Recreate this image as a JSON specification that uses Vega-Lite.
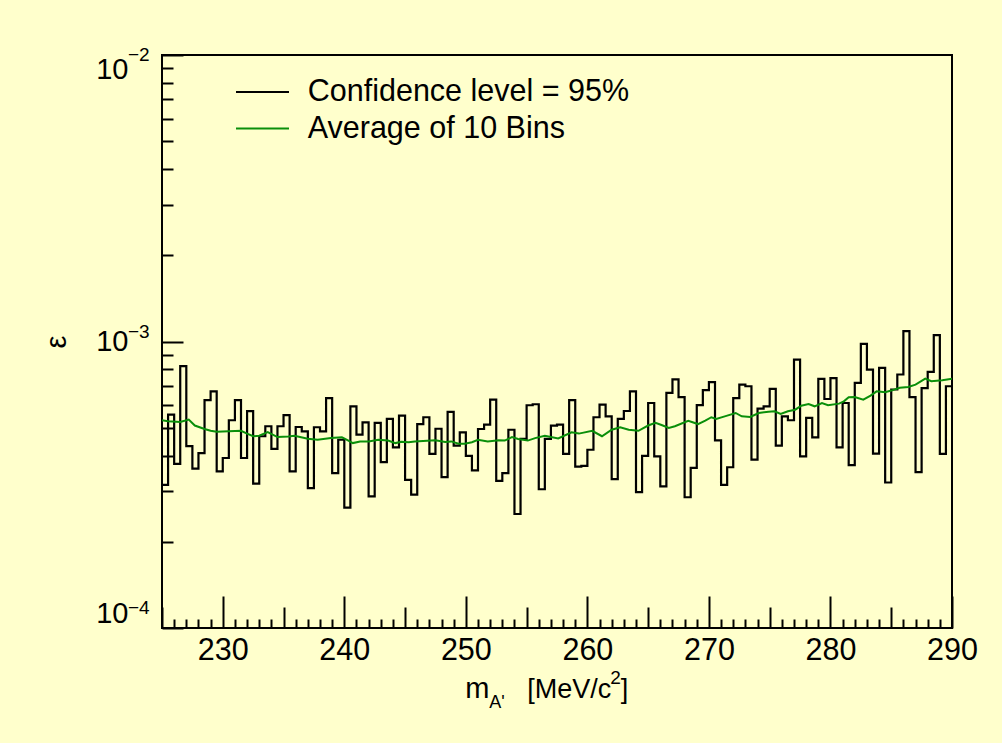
{
  "$schema": "https://vega.github.io/schema/vega-lite/v6.json",
  "width": 790,
  "height": 573,
  "autosize": {"type": "none"},
  "padding": {"left": 162, "top": 55, "right": 50, "bottom": 115},
  "background": "#ffffcc",
  "config": {
    "font": "Liberation Sans",
    "view": {"stroke": "#000000", "strokeWidth": 2},
    "axis": {"grid": false, "domain": false, "tickColor": "#000000", "tickWidth": 2, "labelColor": "#000000", "labelFont": "Liberation Sans", "labelFontSize": 29, "titleFont": "Liberation Sans", "titleFontWeight": "normal", "titleColor": "#000000", "labelOverlap": false, "labelBound": false, "tickCount": 100}
  },
  "datasets": {
    "hist": [
      {"m": 225.0, "eps": 3.16e-4}, {"m": 225.5, "eps": 5.56e-4}, {"m": 226.0, "eps": 3.74e-4}, {"m": 226.5, "eps": 8.20e-4},
      {"m": 227.0, "eps": 4.31e-4}, {"m": 227.5, "eps": 3.60e-4}, {"m": 228.0, "eps": 4.08e-4}, {"m": 228.5, "eps": 6.24e-4},
      {"m": 229.0, "eps": 6.70e-4}, {"m": 229.5, "eps": 3.52e-4}, {"m": 230.0, "eps": 3.92e-4}, {"m": 230.5, "eps": 5.31e-4},
      {"m": 231.0, "eps": 6.24e-4}, {"m": 231.5, "eps": 3.92e-4}, {"m": 232.0, "eps": 5.71e-4}, {"m": 232.5, "eps": 3.19e-4},
      {"m": 233.0, "eps": 4.67e-4}, {"m": 233.5, "eps": 5.06e-4}, {"m": 234.0, "eps": 4.22e-4}, {"m": 234.5, "eps": 5.06e-4},
      {"m": 235.0, "eps": 5.53e-4}, {"m": 235.5, "eps": 3.52e-4}, {"m": 236.0, "eps": 5.03e-4}, {"m": 236.5, "eps": 4.86e-4},
      {"m": 237.0, "eps": 3.08e-4}, {"m": 237.5, "eps": 5.02e-4}, {"m": 238.0, "eps": 4.86e-4}, {"m": 238.5, "eps": 6.34e-4},
      {"m": 239.0, "eps": 3.47e-4}, {"m": 239.5, "eps": 4.54e-4}, {"m": 240.0, "eps": 2.63e-4}, {"m": 240.5, "eps": 5.94e-4},
      {"m": 241.0, "eps": 4.73e-4}, {"m": 241.5, "eps": 5.22e-4}, {"m": 242.0, "eps": 2.88e-4}, {"m": 242.5, "eps": 5.20e-4},
      {"m": 243.0, "eps": 3.79e-4}, {"m": 243.5, "eps": 5.37e-4}, {"m": 244.0, "eps": 4.27e-4}, {"m": 244.5, "eps": 5.51e-4},
      {"m": 245.0, "eps": 3.29e-4}, {"m": 245.5, "eps": 2.92e-4}, {"m": 246.0, "eps": 5.15e-4}, {"m": 246.5, "eps": 5.44e-4},
      {"m": 247.0, "eps": 4.05e-4}, {"m": 247.5, "eps": 4.96e-4}, {"m": 248.0, "eps": 3.36e-4}, {"m": 248.5, "eps": 5.68e-4},
      {"m": 249.0, "eps": 4.33e-4}, {"m": 249.5, "eps": 4.82e-4}, {"m": 250.0, "eps": 3.99e-4}, {"m": 250.5, "eps": 3.55e-4},
      {"m": 251.0, "eps": 4.95e-4}, {"m": 251.5, "eps": 5.13e-4}, {"m": 252.0, "eps": 6.27e-4}, {"m": 252.5, "eps": 3.26e-4},
      {"m": 253.0, "eps": 3.47e-4}, {"m": 253.5, "eps": 4.92e-4}, {"m": 254.0, "eps": 2.50e-4}, {"m": 254.5, "eps": 4.57e-4},
      {"m": 255.0, "eps": 5.99e-4}, {"m": 255.5, "eps": 6.04e-4}, {"m": 256.0, "eps": 3.05e-4}, {"m": 256.5, "eps": 4.57e-4},
      {"m": 257.0, "eps": 5.09e-4}, {"m": 257.5, "eps": 5.13e-4}, {"m": 258.0, "eps": 4.05e-4}, {"m": 258.5, "eps": 6.24e-4},
      {"m": 259.0, "eps": 3.66e-4}, {"m": 259.5, "eps": 3.68e-4}, {"m": 260.0, "eps": 4.19e-4}, {"m": 260.5, "eps": 5.44e-4},
      {"m": 261.0, "eps": 6.02e-4}, {"m": 261.5, "eps": 5.48e-4}, {"m": 262.0, "eps": 3.31e-4}, {"m": 262.5, "eps": 5.37e-4},
      {"m": 263.0, "eps": 5.72e-4}, {"m": 263.5, "eps": 6.70e-4}, {"m": 264.0, "eps": 2.98e-4}, {"m": 264.5, "eps": 3.99e-4},
      {"m": 265.0, "eps": 6.10e-4}, {"m": 265.5, "eps": 3.97e-4}, {"m": 266.0, "eps": 3.12e-4}, {"m": 266.5, "eps": 6.62e-4},
      {"m": 267.0, "eps": 7.37e-4}, {"m": 267.5, "eps": 6.40e-4}, {"m": 268.0, "eps": 2.86e-4}, {"m": 268.5, "eps": 3.62e-4},
      {"m": 269.0, "eps": 6.00e-4}, {"m": 269.5, "eps": 6.76e-4}, {"m": 270.0, "eps": 7.21e-4}, {"m": 270.5, "eps": 4.52e-4},
      {"m": 271.0, "eps": 3.16e-4}, {"m": 271.5, "eps": 3.64e-4}, {"m": 272.0, "eps": 6.34e-4}, {"m": 272.5, "eps": 7.07e-4},
      {"m": 273.0, "eps": 6.98e-4}, {"m": 273.5, "eps": 3.87e-4}, {"m": 274.0, "eps": 5.83e-4}, {"m": 274.5, "eps": 5.94e-4},
      {"m": 275.0, "eps": 6.83e-4}, {"m": 275.5, "eps": 4.33e-4}, {"m": 276.0, "eps": 5.48e-4}, {"m": 276.5, "eps": 5.31e-4},
      {"m": 277.0, "eps": 8.65e-4}, {"m": 277.5, "eps": 3.97e-4}, {"m": 278.0, "eps": 5.41e-4}, {"m": 278.5, "eps": 4.63e-4},
      {"m": 279.0, "eps": 7.41e-4}, {"m": 279.5, "eps": 6.30e-4}, {"m": 280.0, "eps": 7.45e-4}, {"m": 280.5, "eps": 4.27e-4},
      {"m": 281.0, "eps": 6.10e-4}, {"m": 281.5, "eps": 3.70e-4}, {"m": 282.0, "eps": 7.17e-4}, {"m": 282.5, "eps": 9.81e-4},
      {"m": 283.0, "eps": 7.98e-4}, {"m": 283.5, "eps": 4.06e-4}, {"m": 284.0, "eps": 8.09e-4}, {"m": 284.5, "eps": 3.22e-4},
      {"m": 285.0, "eps": 6.80e-4}, {"m": 285.5, "eps": 7.67e-4}, {"m": 286.0, "eps": 1.087e-3}, {"m": 286.5, "eps": 6.39e-4},
      {"m": 287.0, "eps": 3.50e-4}, {"m": 287.5, "eps": 6.87e-4}, {"m": 288.0, "eps": 7.83e-4}, {"m": 288.5, "eps": 1.052e-3},
      {"m": 289.0, "eps": 4.05e-4}, {"m": 289.5, "eps": 6.98e-4}, {"m": 290.0, "eps": 6.98e-4}
    ],
    "avg": [
      {"m": 225.0, "eps": 5.31e-4}, {"m": 225.5, "eps": 5.27e-4}, {"m": 226.5, "eps": 5.24e-4}, {"m": 227.2, "eps": 5.34e-4},
      {"m": 227.7, "eps": 5.09e-4}, {"m": 228.5, "eps": 4.95e-4}, {"m": 229.0, "eps": 4.88e-4}, {"m": 229.5, "eps": 4.84e-4},
      {"m": 230.5, "eps": 4.86e-4}, {"m": 231.5, "eps": 4.88e-4}, {"m": 232.0, "eps": 4.77e-4}, {"m": 232.5, "eps": 4.67e-4},
      {"m": 233.0, "eps": 4.69e-4}, {"m": 233.7, "eps": 4.83e-4}, {"m": 234.5, "eps": 4.64e-4}, {"m": 235.4, "eps": 4.66e-4},
      {"m": 235.9, "eps": 4.69e-4}, {"m": 237.0, "eps": 4.58e-4}, {"m": 237.8, "eps": 4.54e-4}, {"m": 238.9, "eps": 4.60e-4},
      {"m": 239.8, "eps": 4.63e-4}, {"m": 240.3, "eps": 4.52e-4}, {"m": 240.7, "eps": 4.42e-4}, {"m": 241.3, "eps": 4.48e-4},
      {"m": 242.0, "eps": 4.48e-4}, {"m": 242.8, "eps": 4.54e-4}, {"m": 243.6, "eps": 4.51e-4}, {"m": 244.2, "eps": 4.42e-4},
      {"m": 244.7, "eps": 4.47e-4}, {"m": 245.3, "eps": 4.45e-4}, {"m": 245.8, "eps": 4.48e-4}, {"m": 247.5, "eps": 4.52e-4},
      {"m": 248.3, "eps": 4.46e-4}, {"m": 248.8, "eps": 4.48e-4}, {"m": 249.4, "eps": 4.40e-4}, {"m": 249.9, "eps": 4.40e-4},
      {"m": 250.5, "eps": 4.45e-4}, {"m": 251.0, "eps": 4.54e-4}, {"m": 251.8, "eps": 4.48e-4}, {"m": 252.7, "eps": 4.52e-4},
      {"m": 253.2, "eps": 4.51e-4}, {"m": 253.8, "eps": 4.64e-4}, {"m": 254.3, "eps": 4.57e-4}, {"m": 255.1, "eps": 4.51e-4},
      {"m": 255.7, "eps": 4.60e-4}, {"m": 256.5, "eps": 4.69e-4}, {"m": 257.0, "eps": 4.64e-4}, {"m": 257.6, "eps": 4.59e-4},
      {"m": 258.7, "eps": 4.82e-4}, {"m": 259.3, "eps": 4.77e-4}, {"m": 260.4, "eps": 4.88e-4}, {"m": 261.2, "eps": 4.67e-4},
      {"m": 262.0, "eps": 4.92e-4}, {"m": 262.7, "eps": 5.02e-4}, {"m": 263.4, "eps": 4.92e-4}, {"m": 264.2, "eps": 4.88e-4},
      {"m": 265.0, "eps": 5.09e-4}, {"m": 265.6, "eps": 5.20e-4}, {"m": 266.1, "eps": 5.11e-4}, {"m": 266.7, "eps": 4.99e-4},
      {"m": 267.2, "eps": 5.06e-4}, {"m": 268.3, "eps": 5.29e-4}, {"m": 269.1, "eps": 5.15e-4}, {"m": 269.7, "eps": 5.29e-4},
      {"m": 270.2, "eps": 5.44e-4}, {"m": 270.6, "eps": 5.37e-4}, {"m": 271.3, "eps": 5.48e-4}, {"m": 272.2, "eps": 5.63e-4},
      {"m": 272.7, "eps": 5.48e-4}, {"m": 273.4, "eps": 5.45e-4}, {"m": 274.1, "eps": 5.63e-4}, {"m": 274.9, "eps": 5.69e-4},
      {"m": 275.4, "eps": 5.71e-4}, {"m": 275.9, "eps": 5.59e-4}, {"m": 276.5, "eps": 5.71e-4}, {"m": 277.1, "eps": 5.78e-4},
      {"m": 277.6, "eps": 5.97e-4}, {"m": 278.2, "eps": 6.05e-4}, {"m": 278.7, "eps": 5.94e-4}, {"m": 279.3, "eps": 6.10e-4},
      {"m": 279.8, "eps": 5.99e-4}, {"m": 280.7, "eps": 6.07e-4}, {"m": 281.1, "eps": 6.18e-4}, {"m": 281.5, "eps": 6.39e-4},
      {"m": 282.0, "eps": 6.40e-4}, {"m": 282.7, "eps": 6.27e-4}, {"m": 283.3, "eps": 6.47e-4}, {"m": 283.8, "eps": 6.70e-4},
      {"m": 284.5, "eps": 6.65e-4}, {"m": 285.0, "eps": 6.74e-4}, {"m": 285.7, "eps": 6.89e-4}, {"m": 286.4, "eps": 6.94e-4},
      {"m": 287.0, "eps": 7.07e-4}, {"m": 287.8, "eps": 7.42e-4}, {"m": 288.3, "eps": 7.27e-4}, {"m": 289.2, "eps": 7.33e-4},
      {"m": 290.0, "eps": 7.41e-4}
    ]
  },
  "layer": [
    {
      "data": {"name": "hist"},
      "mark": {"type": "line", "interpolate": "step-after", "strokeWidth": 2.2, "clip": true},
      "encoding": {
        "x": {
          "field": "m", "type": "quantitative",
          "scale": {"domain": [225, 290], "nice": false, "zero": false},
          "axis": {
            "title": null,
            "tickCount": 100,
            "format": "d",
            "labelFontSize": 30.5,
            "values": [225,226,227,228,229,230,231,232,233,234,235,236,237,238,239,240,241,242,243,244,245,246,247,248,249,250,251,252,253,254,255,256,257,258,259,260,261,262,263,264,265,266,267,268,269,270,271,272,273,274,275,276,277,278,279,280,281,282,283,284,285,286,287,288,289,290],
            "tickSize": {"condition": [{"test": "datum.value % 10 === 0", "value": -32}, {"test": "datum.value % 5 === 0", "value": -21}], "value": -9},
            "labelExpr": "datum.value % 10 === 0 ? datum.label : ''",
            "labelPadding": 39,
            "labelFlush": false
          }
        },
        "y": {
          "field": "eps", "type": "quantitative",
          "scale": {"type": "log", "domain": [0.0001, 0.01], "nice": false},
          "axis": {
            "title": "ε",
            "titleFontSize": 29,
            "titlePadding": 24,
            "tickCount": 100,
            "values": [0.0001,0.0002,0.0003,0.0004,0.0005,0.0006,0.0007,0.0008,0.0009,0.001,0.002,0.003,0.004,0.005,0.006,0.007,0.008,0.009,0.01],
            "tickSize": {"condition": {"test": "datum.value === 0.0001 || datum.value === 0.001 || datum.value === 0.01", "value": -21}, "value": -11},
            "labelExpr": "datum.value === 0.01 || datum.value === 0.001 || datum.value === 0.0001 ? '10' : ''",
            "labelPadding": 55,
            "labelFlush": true
          }
        },
        "color": {
          "datum": "Confidence level = 95%", "type": "nominal",
          "scale": {"domain": ["Confidence level = 95%", "Average of 10 Bins"], "range": ["#000000", "#0a8f0a"]},
          "legend": {
            "title": null, "orient": "none", "legendX": 85.25, "legendY": 21.75,
            "symbolType": "M-2,0L2,0", "symbolSize": 702, "symbolStrokeWidth": 2,
            "labelFontSize": 30.5, "labelFont": "Liberation Sans", "labelColor": "#000000",
            "labelOffset": 30, "rowPadding": 5.5, "padding": 0, "labelLimit": 0
          }
        }
      }
    },
    {
      "data": {"name": "avg"},
      "mark": {"type": "line", "strokeWidth": 2, "clip": true},
      "encoding": {
        "x": {"field": "m", "type": "quantitative"},
        "y": {"field": "eps", "type": "quantitative"},
        "color": {"datum": "Average of 10 Bins", "type": "nominal"}
      }
    },
    {
      "data": {"values": [{}]},
      "mark": {"type": "text", "text": "−2", "fontSize": 19, "align": "left", "baseline": "middle", "dx": -34, "dy": 0, "color": "#000000"},
      "encoding": {"x": {"datum": 225, "type": "quantitative"}, "y": {"datum": 0.01, "type": "quantitative"}}
    },
    {
      "data": {"values": [{}]},
      "mark": {"type": "text", "text": "−3", "fontSize": 19, "align": "left", "baseline": "middle", "dx": -34, "dy": -10, "color": "#000000"},
      "encoding": {"x": {"datum": 225, "type": "quantitative"}, "y": {"datum": 0.001, "type": "quantitative"}}
    },
    {
      "data": {"values": [{}]},
      "mark": {"type": "text", "text": "−4", "fontSize": 19, "align": "left", "baseline": "middle", "dx": -34, "dy": -20, "color": "#000000"},
      "encoding": {"x": {"datum": 225, "type": "quantitative"}, "y": {"datum": 0.0001, "type": "quantitative"}}
    },
    {
      "data": {"values": [{}]},
      "mark": {"type": "text", "text": "m", "fontSize": 29, "align": "left", "baseline": "alphabetic", "dy": 70, "color": "#000000"},
      "encoding": {"x": {"datum": 249.95, "type": "quantitative"}, "y": {"datum": 0.0001, "type": "quantitative"}}
    },
    {
      "data": {"values": [{}]},
      "mark": {"type": "text", "text": "A'", "fontSize": 18, "align": "left", "baseline": "alphabetic", "dy": 80, "color": "#000000"},
      "encoding": {"x": {"datum": 251.92, "type": "quantitative"}, "y": {"datum": 0.0001, "type": "quantitative"}}
    },
    {
      "data": {"values": [{}]},
      "mark": {"type": "text", "text": "[MeV/c", "fontSize": 27, "align": "left", "baseline": "alphabetic", "dy": 70, "color": "#000000"},
      "encoding": {"x": {"datum": 255.05, "type": "quantitative"}, "y": {"datum": 0.0001, "type": "quantitative"}}
    },
    {
      "data": {"values": [{}]},
      "mark": {"type": "text", "text": "2", "fontSize": 19, "align": "left", "baseline": "alphabetic", "dy": 56, "color": "#000000"},
      "encoding": {"x": {"datum": 261.88, "type": "quantitative"}, "y": {"datum": 0.0001, "type": "quantitative"}}
    },
    {
      "data": {"values": [{}]},
      "mark": {"type": "text", "text": "]", "fontSize": 27, "align": "left", "baseline": "alphabetic", "dy": 70, "color": "#000000"},
      "encoding": {"x": {"datum": 262.75, "type": "quantitative"}, "y": {"datum": 0.0001, "type": "quantitative"}}
    }
  ]
}
